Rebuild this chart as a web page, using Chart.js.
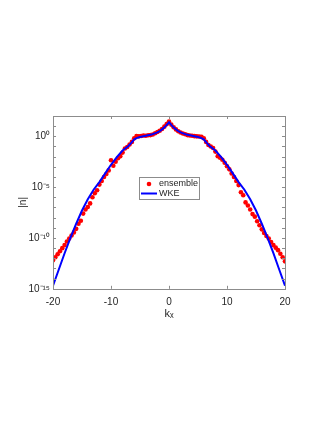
<!DOCTYPE html>
<html>
<head>
<meta charset="utf-8">
<script src="https://cdn.jsdelivr.net/npm/chart.js@4"></script>
<style>
  html, body { margin: 0; padding: 0; background: #fff; }
  #wrap { width: 327px; height: 423px; }
</style>
</head>
<body>
<div id="wrap"><canvas id="spectrum" width="327" height="423"></canvas></div>
<script>
// ensemble points (k_x, log10 |n|)
const kEns = [
  -20, -19.6, -19.2, -18.8, -18.4, -18, -17.6, -17.2, -16.8, -16.4,
  -16, -15.6, -15.2, -14.8, -14.4, -14, -13.6, -13.2, -12.8, -12.4,
  -12, -11.6, -11.2, -10.8, -10.4, -10, -9.6, -9.2, -8.8, -8.4,
  -8, -7.6, -7.2, -6.8, -6.4, -6, -5.6, -5.2, -4.8, -4.4,
  -4, -3.6, -3.2, -2.8, -2.4, -2, -1.6, -1.2, -0.8, -0.4,
  0,
  0.4, 0.8, 1.2, 1.6, 2, 2.4, 2.8, 3.2, 3.6, 4,
  4.4, 4.8, 5.2, 5.6, 6, 6.4, 6.8, 7.2, 7.6, 8,
  8.4, 8.8, 9.2, 9.6, 10, 10.4, 10.8, 11.2, 11.6, 12,
  12.4, 12.8, 13.2, 13.6, 14, 14.4, 14.8, 15.2, 15.6, 16,
  16.4, 16.8, 17.2, 17.6, 18, 18.4, 18.8, 19.2, 19.6, 20
];
const ensExp = [
  -12.2, -11.9, -11.6, -11.3, -11.0, -10.7, -10.35, -10.05, -9.75, -9.45,
  -9.1, -8.6, -8.3, -7.6, -7.2, -6.95, -6.6, -6.0, -5.6, -5.3,
  -4.75, -4.4, -4.0, -3.7, -3.35, -2.35, -2.9, -2.5, -2.15, -1.95,
  -1.6, -1.2, -1.05, -0.8, -0.55, -0.2, 0.02, 0.0, 0.03, 0.08,
  0.06, 0.1, 0.12, 0.18, 0.3, 0.42, 0.55, 0.72, 0.95, 1.2,
  1.45,
  1.15, 0.9, 0.68, 0.5, 0.38, 0.28, 0.2, 0.12, 0.08, 0.05,
  0.02, 0.0, -0.02, -0.05, -0.2, -0.55, -0.85, -1.0, -1.15, -1.5,
  -1.95, -2.1, -2.3, -2.6, -2.95, -3.25, -3.65, -4.0, -4.4, -4.8,
  -5.5, -5.8, -6.5, -6.8, -7.2, -7.65, -7.9, -8.35, -8.75, -9.15,
  -9.5, -9.8, -10.05, -10.4, -10.7, -10.95, -11.2, -11.55, -11.9, -12.3
];

// WKE curve (k_x, log10 |n|)
const kWke = [
  -20, -19, -18, -17, -16, -15, -14, -13, -12, -11, -10, -9, -8, -7, -6.5, -6, -5.5, -5,
  -4, -3, -2, -1.5, -1, -0.5, 0, 0.5, 1, 1.5, 2, 3, 4,
  5, 5.5, 6, 6.5, 7, 8, 9, 10, 11, 12, 13, 14, 15, 16, 17, 18, 19, 20
];
const wkeExp = [
  -14.7, -13.1, -11.5, -10.0, -8.6, -7.3, -6.2, -5.25, -4.5, -3.65, -2.8, -2.05, -1.4, -0.95, -0.65, -0.3, -0.15, -0.06,
  0.05, 0.17, 0.38, 0.55, 0.78, 1.05, 1.38, 1.05, 0.78, 0.55, 0.38, 0.17, 0.05,
  -0.06, -0.15, -0.3, -0.65, -0.95, -1.4, -2.05, -2.8, -3.65, -4.5, -5.25, -6.2, -7.3, -8.6, -10.0, -11.5, -13.1, -14.7
];

const xTicks = [-20, -10, 0, 10, 20];
const yDecades = [-15, -14, -13, -12, -11, -10, -9, -8, -7, -6, -5, -4, -3, -2, -1, 0, 1, 2];
const yLabels = { '0': '10\u2070', '-5': '10\u207B\u2075', '-10': '10\u207B\u00B9\u2070', '-15': '10\u207B\u00B9\u2075' };

const ensPoints = kEns.map((k, i) => ({ x: k, y: Math.pow(10, ensExp[i]) }));
const wkePoints = kWke.map((k, i) => ({ x: k, y: Math.pow(10, wkeExp[i]) }));

const textFont = '"Liberation Sans", Arial, sans-serif';

const boxPlugin = {
  id: 'box',
  afterDraw(chart) {
    const c = chart.ctx;
    const a = chart.chartArea;
    const xs = chart.scales.x, ys = chart.scales.y;
    c.save();
    c.strokeStyle = '#8c8c8c';
    c.lineWidth = 1;
    c.strokeRect(Math.round(a.left) + 0.5, Math.round(a.top) + 0.5,
      Math.round(a.right - a.left), Math.round(a.bottom - a.top));
    c.beginPath();
    xTicks.forEach(v => {
      const px = Math.round(xs.getPixelForValue(v)) + 0.5;
      c.moveTo(px, a.bottom); c.lineTo(px, a.bottom - 3);
      c.moveTo(px, a.top); c.lineTo(px, a.top + 3);
    });
    yDecades.forEach(d => {
      const py = Math.round(ys.getPixelForValue(Math.pow(10, d))) + 0.5;
      c.moveTo(a.left, py); c.lineTo(a.left + 3, py);
      c.moveTo(a.right, py); c.lineTo(a.right - 3, py);
    });
    c.stroke();

    // legend
    const lx = 139.5, ly = 177.5, lw = 60, lh = 22;
    c.fillStyle = '#fff';
    c.fillRect(lx, ly, lw, lh);
    c.strokeStyle = '#8c8c8c';
    c.strokeRect(lx, ly, lw, lh);
    c.fillStyle = '#ff0000';
    c.beginPath(); c.arc(149, 184, 2.3, 0, Math.PI * 2); c.fill();
    c.strokeStyle = '#0000ff';
    c.lineWidth = 2;
    c.beginPath(); c.moveTo(141, 193.5); c.lineTo(157, 193.5); c.stroke();
    c.fillStyle = '#262626';
    c.font = '9px ' + textFont;
    c.textBaseline = 'middle';
    c.fillText(chart.data.datasets[0].label, 159, 183.5);
    c.fillText(chart.data.datasets[1].label, 159, 193.5);
    c.restore();
  }
};

new Chart(document.getElementById('spectrum').getContext('2d'), {
  type: 'scatter',
  data: {
    datasets: [{
      label: 'ensemble',
      data: ensPoints,
      pointRadius: 2.3,
      pointBackgroundColor: '#ff0000',
      pointBorderWidth: 0,
      showLine: false,
      order: 2
    }, {
      label: 'WKE',
      data: wkePoints,
      showLine: true,
      borderColor: '#0000ff',
      borderWidth: 2,
      pointRadius: 0,
      tension: 0,
      order: 1
    }]
  },
  options: {
    responsive: false,
    animation: false,
    layout: {
      padding: { top: 116, right: 42, left: 17, bottom: 102 }
    },
    plugins: {
      legend: { display: false },
      tooltip: { enabled: false }
    },
    scales: {
      x: {
        type: 'linear',
        min: -20,
        max: 20,
        grid: { display: false, drawTicks: false },
        border: { display: false },
        afterBuildTicks: (scale) => { scale.ticks = xTicks.map(v => ({ value: v })); },
        ticks: {
          padding: 7,
          color: '#262626',
          font: { family: textFont, size: 10 }
        },
        title: {
          display: true,
          text: 'k\u2093',
          color: '#262626',
          padding: { top: -7, bottom: 0 },
          font: { family: textFont, size: 11 }
        }
      },
      y: {
        type: 'logarithmic',
        min: 1e-15,
        max: 1e2,
        grid: { display: false, drawTicks: false },
        border: { display: false },
        afterBuildTicks: (scale) => { scale.ticks = yDecades.map(d => ({ value: Math.pow(10, d) })); },
        afterFit: (scale) => { scale.width = 36; },
        ticks: {
          autoSkip: false,
          padding: 3,
          color: '#262626',
          font: { family: textFont, size: 10 },
          callback: (value) => {
            const d = Math.round(Math.log10(value));
            return yLabels[String(d)] || '';
          }
        },
        title: {
          display: true,
          text: '|n|',
          color: '#262626',
          padding: 0,
          font: { family: textFont, size: 10 }
        }
      }
    }
  },
  plugins: [boxPlugin]
});
</script>
</body>
</html>
